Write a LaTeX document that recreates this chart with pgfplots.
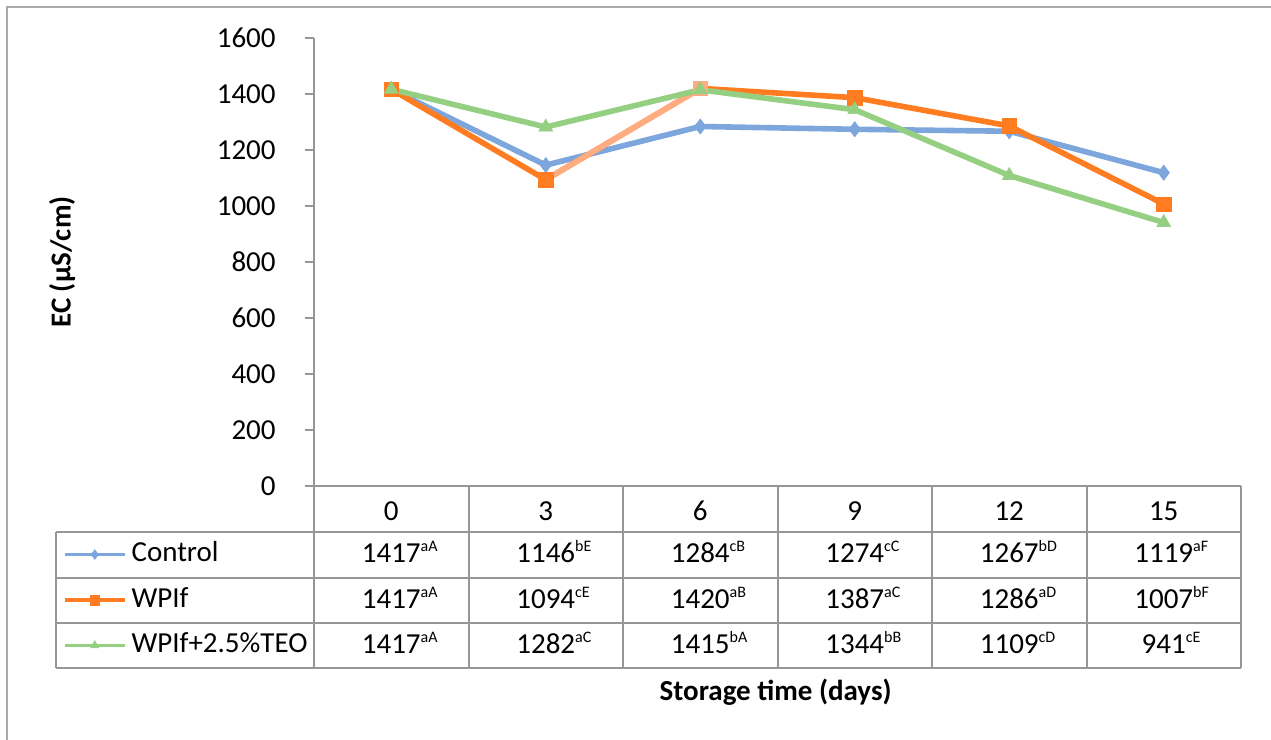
\documentclass[border=0pt]{standalone}
\usepackage{fontspec}
\setmainfont{Carlito}
\usepackage{pgfplots}
\pgfplotsset{compat=1.18}
\usepackage{pgfplotstable}

\definecolor{ctrl}{RGB}{124,166,220}
\definecolor{wpif}{RGB}{255,124,32}
\definecolor{wpifl}{RGB}{255,172,128}
\definecolor{teo}{RGB}{148,207,130}
\definecolor{framegray}{RGB}{170,170,170}
\definecolor{axisgray}{RGB}{150,150,150}

\newcommand{\fs}{\fontsize{14.5}{17}\selectfont}
\newcommand{\cell}[2]{#1\rlap{\raisebox{5.3pt}{\fontsize{8}{9}\selectfont #2}}}

% EC (uS/cm) by storage day (index 0..5 = 0,3,...,15 days)
\pgfplotstableread{
day control wpif teo
0 1417 1417 1417
1 1146 1094 1282
2 1284 1420 1415
3 1274 1387 1344
4 1267 1286 1109
5 1119 1007 941
}\ecdata

\begin{document}
\begin{tikzpicture}[font=\fs]
\path[use as bounding box] (0,0) rectangle (635.5pt,-370pt);
\draw[framegray, line width=1pt] (3.5pt,-372pt) -- (3.5pt,-3.5pt) -- (637pt,-3.5pt);

\begin{axis}[
  at={(157pt,-243pt)}, anchor=south west,
  width=463.5pt, height=224pt, scale only axis,
  xmin=-0.5, xmax=5.5, ymin=0, ymax=1600,
  axis x line*=bottom, axis y line*=left,
  axis line style={axisgray, line width=1pt},
  xtick={0,...,5}, xticklabels={0,3,6,9,12,15},
  xtick style={draw=none},
  xticklabel style={anchor=base, yshift=-12.5pt},
  ytick={0,200,...,1600},
  ytick style={axisgray, line width=1pt},
  tick align=outside, major tick length=4.5pt,
  yticklabel style={anchor=east, inner sep=0pt, xshift=-14.5pt},
  tick label style={font=\fs},
  /pgf/number format/assume math mode=true,
  /pgf/number format/1000 sep={},
  ylabel={\bfseries EC (μS/cm)},
  every axis y label/.style={at={(axis description cs:-0.2718,0.5)}, rotate=90, anchor=center, font=\fs},
  xlabel={\bfseries Storage time (days)},
  every axis x label/.style={at={(axis description cs:0.498,-0.4598)}, anchor=center, font=\fs},
  legend style={at={(axis description cs:-0.2708,-0.2545)}, anchor=west, draw=none, fill=none,
    inner sep=0pt, outer sep=0pt, row sep=9.75pt, column sep=2.5pt, font=\fs,
    nodes={inner sep=0pt, text height=10pt, text depth=3pt}},
  legend cell align=left,
  legend image code/.code={\draw[#1, line width=1.8pt, mark size=2.4pt, mark repeat=2, mark phase=2]
    plot coordinates {(0pt,0pt) (15pt,0pt) (30pt,0pt)};},
  clip=false,
]
\addplot[ctrl, line width=2.8pt, mark=diamond*, mark size=3.8pt, mark options={line width=0.3pt, fill=ctrl}]
  table[x=day, y=control]{\ecdata};
\addlegendentry{Control}
\addplot[wpif, line width=2.8pt, mark=square*, mark size=3.6pt, mark options={line width=0.3pt, fill=wpif}]
  table[x=day, y=wpif]{\ecdata};
\addlegendentry{WPIf}
\addplot[wpifl, line width=2.8pt, mark=square*, mark size=3.6pt, mark indices={2}, mark options={line width=0.3pt, fill=wpifl}, forget plot]
  coordinates {(1,1094) (2,1420)};
\addplot[wpif, only marks, mark=square*, mark size=3.6pt, mark options={line width=0.3pt, fill=wpif}, forget plot]
  coordinates {(1,1094)};
\addplot[teo, line width=2.8pt, mark=triangle*, mark size=4pt, mark options={line width=0.3pt, fill=teo}]
  table[x=day, y=teo]{\ecdata};
\addlegendentry{WPIf+2.5\%TEO}
\end{axis}

\begin{scope}[x=0.5pt, y=-0.5pt]
  \draw[axisgray, line width=1pt]
    (56,532) -- (1241,532) (56,577.5) -- (1241,577.5) (56,623) -- (1241,623) (56,668) -- (1241,668)
    (56,532) -- (56,668);
  \foreach \x in {314,468.5,623,777.5,932,1086.5,1241}
    \draw[axisgray, line width=1pt] (\x,486) -- (\x,668);
  % row 1: Control
  \node[anchor=base] at (391.25,562.5) {\cell{1417}{aA}};
  \node[anchor=base] at (545.75,562.5) {\cell{1146}{bE}};
  \node[anchor=base] at (700.25,562.5) {\cell{1284}{cB}};
  \node[anchor=base] at (854.75,562.5) {\cell{1274}{cC}};
  \node[anchor=base] at (1009.25,562.5) {\cell{1267}{bD}};
  \node[anchor=base] at (1163.75,562.5) {\cell{1119}{aF}};
  % row 2: WPIf
  \node[anchor=base] at (391.25,608) {\cell{1417}{aA}};
  \node[anchor=base] at (545.75,608) {\cell{1094}{cE}};
  \node[anchor=base] at (700.25,608) {\cell{1420}{aB}};
  \node[anchor=base] at (854.75,608) {\cell{1387}{aC}};
  \node[anchor=base] at (1009.25,608) {\cell{1286}{aD}};
  \node[anchor=base] at (1163.75,608) {\cell{1007}{bF}};
  % row 3: WPIf+2.5%TEO
  \node[anchor=base] at (391.25,653.5) {\cell{1417}{aA}};
  \node[anchor=base] at (545.75,653.5) {\cell{1282}{aC}};
  \node[anchor=base] at (700.25,653.5) {\cell{1415}{bA}};
  \node[anchor=base] at (854.75,653.5) {\cell{1344}{bB}};
  \node[anchor=base] at (1009.25,653.5) {\cell{1109}{cD}};
  \node[anchor=base] at (1163.75,653.5) {\cell{941}{cE}};
\end{scope}
\end{tikzpicture}
\end{document}
